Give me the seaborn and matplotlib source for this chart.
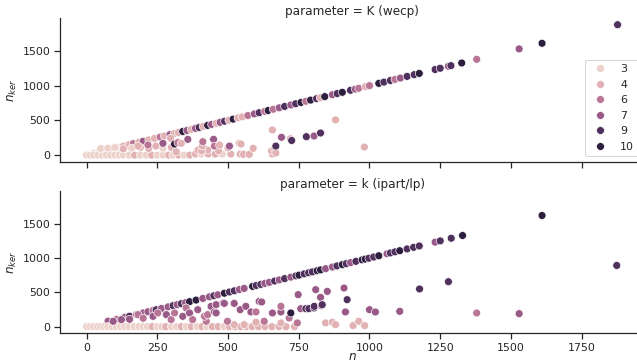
import seaborn as sns
import matplotlib.pyplot as plt
import pandas as pd

params = ['K (wecp)', 'k (ipart/lp)']

# top panel: K (wecp)
wecp_n = [25, 45, 70, 90, 110, 130, 150, 165, 185, 200, 220, 240, 260, 275, 295, 310, 325, 340, 355, 370,
          385, 398, 412, 428, 442, 458, 472, 488, 503, 518, 535, 550, 570, 593, 610, 630, 642, 660, 681, 700,
          722, 739, 758, 775, 792, 813, 826, 842, 869, 886, 904, 933, 950, 962, 986, 1000, 1033, 1051, 1074, 1090,
          1109, 1133, 1158, 1176, 1232, 1250, 1279, 1288, 1326, 1379, 1529, 1610, 1877,
          0, 12, 25, 40, 55, 70, 85, 100, 115, 130, 150, 170, 190, 210, 230, 250, 270, 290, 305, 325,
          345, 365, 385, 405, 430, 455, 480, 510, 543, 555, 575, 657,
          50, 75, 100, 130, 160, 190, 220, 245, 270, 300, 317, 394, 428, 407, 467, 500, 589, 654, 665, 669,
          182, 217, 270, 297, 311, 323, 335, 358, 409, 411, 449, 452, 470, 505, 540, 546,
          657, 669, 689, 720, 725, 777, 804, 827, 880, 982]
wecp_nker = [25, 45, 70, 90, 110, 130, 150, 165, 185, 200, 220, 240, 260, 275, 295, 310, 325, 340, 355, 370,
             385, 398, 412, 428, 442, 458, 472, 488, 503, 518, 535, 550, 570, 593, 610, 630, 642, 660, 681, 700,
             722, 739, 758, 775, 792, 813, 826, 842, 869, 886, 904, 933, 950, 962, 986, 1000, 1033, 1051, 1074, 1090,
             1109, 1133, 1158, 1176, 1232, 1250, 1279, 1288, 1326, 1379, 1529, 1610, 1877,
             0, 0, 0, 0, 0, 0, 0, 0, 0, 0, 0, 0, 0, 0, 0, 0, 0, 0, 0, 0,
             0, 0, 15, 15, 15, 15, 15, 15, 15, 10, 10, 15,
             95, 100, 110, 90, 100, 110, 95, 130, 100, 110, 48, 72, 72, 62, 62, 103, 97, 62, 80, 30,
             130, 145, 170, 242, 159, 180, 170, 227, 130, 193, 227, 130, 145, 130, 170, 159,
             362, 130, 256, 236, 210, 265, 275, 318, 507, 116]
wecp_K = [3, 3, 3, 4, 3, 4, 4, 6, 4, 7, 4, 4, 6, 4, 7, 4, 4, 10, 7, 4,
          7, 9, 4, 10, 7, 4, 7, 9, 4, 10, 4, 4, 6, 7, 9, 6, 10, 6, 7, 9,
          7, 9, 10, 6, 10, 9, 4, 10, 7, 9, 10, 9, 7, 6, 4, 6, 10, 9, 9, 6,
          7, 9, 9, 10, 9, 9, 7, 9, 10, 6, 7, 10, 9,
          3, 3, 3, 3, 3, 3, 3, 3, 3, 3, 3, 4, 3, 3, 4, 3, 3, 4, 3, 4,
          3, 4, 4, 3, 4, 4, 3, 4, 4, 4, 4, 4,
          3, 3, 3, 4, 3, 4, 4, 4, 3, 4, 4, 4, 4, 4, 4, 4, 4, 4, 4, 4,
          4, 6, 7, 4, 10, 6, 4, 7, 4, 6, 7, 6, 4, 7, 4, 4,
          4, 9, 7, 4, 9, 9, 7, 9, 4, 4]

# bottom panel: k (ipart/lp)
lp_n = [76, 106, 135, 152, 176, 200, 217, 235, 246, 265, 288, 306, 320, 335, 350, 364, 387, 411, 434, 450,
        464, 487, 505, 522, 540, 557, 587, 600, 616, 630, 646, 665, 681, 700, 722, 740, 751, 769, 785, 798,
        815, 827, 845, 869, 885, 904, 918, 933, 952, 974, 985, 998, 1015, 1033, 1062, 1074, 1090, 1107, 1133, 1156,
        1176, 1232, 1250, 1289, 1329, 1610,
        0, 12, 25, 38, 50, 62, 75, 90, 105, 120, 135, 150, 168, 185, 200, 215, 232, 250, 265, 280,
        300, 318, 335, 352, 370, 390, 408, 425, 445, 465, 485, 505, 525, 545, 565, 585, 608, 630, 655, 680,
        705, 735,
        522, 557, 687, 745, 599, 628, 498, 423, 716, 845, 869, 880, 942, 962, 983,
        94, 123, 152, 182, 200, 235, 252, 282, 299, 311, 340, 352, 364, 375, 393, 417, 428, 440, 452, 458,
        458, 483, 487, 522, 543, 563, 581, 599, 610, 619, 657, 687, 687, 722, 748, 757, 775, 786, 804, 805,
        810, 827, 830, 833, 851, 910, 915, 921, 1000, 1021, 1107, 1177, 1279, 1379, 1529, 1874]
lp_nker = [80, 106, 135, 152, 176, 200, 217, 235, 246, 265, 288, 306, 320, 335, 350, 364, 387, 411, 434, 450,
           464, 487, 505, 522, 540, 557, 587, 600, 616, 630, 646, 665, 681, 700, 722, 740, 751, 769, 785, 798,
           815, 827, 845, 869, 885, 904, 918, 933, 952, 974, 985, 998, 1015, 1033, 1062, 1074, 1090, 1107, 1133, 1156,
           1176, 1232, 1250, 1289, 1329, 1620,
           0, 0, 0, 0, 0, 0, 0, 0, 0, 0, 0, 0, 0, 0, 0, 0, 0, 0, 0, 0,
           0, 0, 0, 0, 0, 0, 0, 0, 0, 0, 0, 0, 0, 0, 0, 0, 0, 0, 0, 0,
           0, 0,
           29, 29, 54, 54, 65, 78, 78, 78, 126, 54, 63, 29, 15, 78, 15,
           78, 102, 107, 175, 122, 150, 199, 175, 102, 199, 150, 272, 199, 102, 247, 150, 175, 296, 214, 320,
           199, 345, 339, 339, 247, 296, 214, 214, 368, 359, 199, 214, 296, 199, 466, 262, 262, 262, 272, 296,
           539, 427, 306, 320, 514, 563, 214, 393, 247, 213, 223, 549, 655, 199, 189, 892]
lp_K = [7, 6, 7, 9, 6, 7, 7, 6, 9, 7, 7, 9, 7, 9, 7, 10, 10, 7, 7, 9,
        7, 10, 9, 9, 7, 7, 10, 9, 9, 7, 7, 9, 7, 9, 7, 9, 10, 9, 9, 9,
        10, 10, 7, 7, 9, 10, 9, 7, 9, 10, 10, 9, 9, 10, 7, 9, 9, 10, 9, 9,
        9, 7, 9, 9, 10, 10,
        3, 3, 3, 3, 3, 3, 3, 3, 3, 3, 3, 3, 3, 3, 3, 3, 4, 3, 3, 4,
        3, 3, 4, 3, 4, 3, 4, 3, 4, 4, 3, 4, 4, 4, 4, 4, 4, 4, 4, 4,
        4, 4,
        4, 4, 4, 6, 4, 6, 6, 6, 6, 4, 4, 4, 4, 4, 4,
        7, 7, 7, 6, 6, 7, 6, 7, 6, 6, 7, 6, 7, 6, 7, 6, 6, 7, 7, 7,
        7, 7, 7, 7, 7, 7, 7, 6, 7, 7, 7, 7, 6, 10, 7, 7, 9, 9, 9, 9,
        7, 7, 7, 9, 7, 7, 7, 9, 7, 7, 7, 9, 9, 6, 7, 9]

df = pd.concat([
    pd.DataFrame({'n': wecp_n, 'n_ker': wecp_nker, 'K': wecp_K, 'parameter': params[0]}),
    pd.DataFrame({'n': lp_n, 'n_ker': lp_nker, 'K': lp_K, 'parameter': params[1]}),
])

sns.set_theme(style='ticks')
fig, axes = plt.subplots(2, 1, figsize=(637 / 72, 364 / 72), dpi=72, sharex=True, sharey=True)

for ax, name in zip(axes, params):
    sub = df[df.parameter == name]
    sns.scatterplot(data=sub, x='n', y='n_ker', hue='K', hue_norm=(3, 10), s=62, ax=ax,
                    legend=(ax is axes[0]))
    ax.set_title('parameter = ' + name, pad=3)
    ax.set_ylabel('$n_{ker}$')
    ax.set_xlabel('')
axes[1].set_xlabel('$n$', labelpad=-3)
sns.despine(fig)
sns.move_legend(axes[0], 'lower right', title=None)

axes[0].set_position([0.0942, 0.556, 0.917, 0.394])
axes[1].set_position([0.0942, 0.0850, 0.917, 0.389])
fig.savefig('out.png', dpi=72)
